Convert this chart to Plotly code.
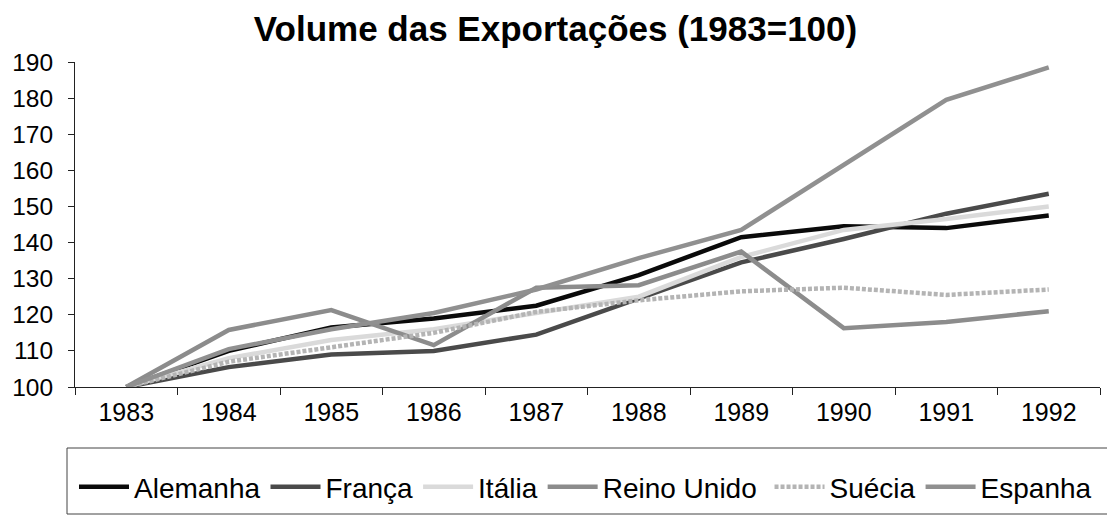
import plotly.graph_objects as go

years = ["1983", "1984", "1985", "1986", "1987", "1988", "1989", "1990", "1991", "1992"]
alemanha = [100, 110, 116.5, 119, 122.5, 131, 141.5, 144.5, 144, 147.5]
franca = [100, 105.5, 109, 110, 114.5, 124.5, 134.5, 141, 148, 153.5]
italia = [100, 108, 113, 116, 120.5, 125, 136, 143.5, 146.5, 150]
reino_unido = [100, 115.8, 121.3, 111.6, 127.5, 128.2, 137.5, 116.3, 118, 121]
suecia = [100, 107, 111, 115, 120.8, 124, 126.5, 127.5, 125.5, 127]
espanha = [100, 110.5, 116, 120.5, 127, 135.7, 143.5, 161.5, 179.5, 188.5]

NB = "\u00a0"
series = [
    ("Alemanha", alemanha, "#0a0a0a", "solid"),
    ("França", franca, "#4a4a4a", "solid"),
    ("Itália", italia, "#dadada", "solid"),
    ("Reino Unido" + NB, reino_unido, "#8c8c8c", "solid"),
    ("Suécia", suecia, "#b4b4b4", "4px,2px"),
    ("Espanha", espanha, "#909090", "solid"),
]

FONT = "Liberation Sans, Arial, sans-serif"

# the page body adds an 8px offset; work in reference pixel coordinates minus 8
OFF = 8
W, H = 1115 - OFF, 516 - OFF
L, R, T, B = 75 - OFF, 1100 - OFF, 62 - OFF, 387 - OFF


def px_x(p):
    return (p - OFF - L) / (R - L)


def px_y(p):
    return (B - (p - OFF)) / (B - T)


fig = go.Figure()
for name, vals, color, dash in series:
    fig.add_trace(go.Scatter(
        x=years, y=vals, name=name, mode="lines",
        line=dict(color=color, width=4.5, dash=dash),
    ))

fig.update_layout(
    width=W, height=H,
    margin=dict(l=L, r=W - R, t=T, b=H - B, autoexpand=False),
    paper_bgcolor="white", plot_bgcolor="white",
    font=dict(family=FONT, color="#000"),
    title=dict(
        text="Volume das Exportações (1983=100)",
        x=(555.5 - OFF) / W, xanchor="center", xref="container",
        y=1 - (29 - OFF) / H, yanchor="middle", yref="container",
        font=dict(size=35, weight="bold", family=FONT, color="#000"),
    ),
    showlegend=True,
    legend=dict(
        orientation="h",
        x=px_x(74), xanchor="left",
        y=px_y(487), yanchor="middle",
        font=dict(size=28, family=FONT),
        itemwidth=50,
        borderwidth=0,
        bgcolor="rgba(0,0,0,0)",
        tracegroupgap=0,
    ),
    shapes=[dict(
        type="rect", xref="paper", yref="paper",
        x0=px_x(67), x1=px_x(1113), y0=px_y(514), y1=px_y(448),
        line=dict(color="#444", width=1), fillcolor="rgba(0,0,0,0)",
    )],
)

fig.update_xaxes(
    type="category",
    range=[-0.5, 9.5],
    showgrid=False, zeroline=False,
    showline=True, linecolor="#222", linewidth=1,
    ticks="outside", tickson="boundaries", ticklen=7, tickcolor="#222",
    tickfont=dict(size=25, family=FONT),
    ticklabelstandoff=3,
)
fig.update_yaxes(
    range=[100, 190],
    tickvals=[100, 110, 120, 130, 140, 150, 160, 170, 180, 190],
    showgrid=False, zeroline=False,
    showline=True, linecolor="#222", linewidth=1,
    ticks="outside", ticklen=6, tickcolor="#222",
    tickfont=dict(size=24.5, family=FONT),
    ticklabelstandoff=10,
)

fig.write_html("out.html")
